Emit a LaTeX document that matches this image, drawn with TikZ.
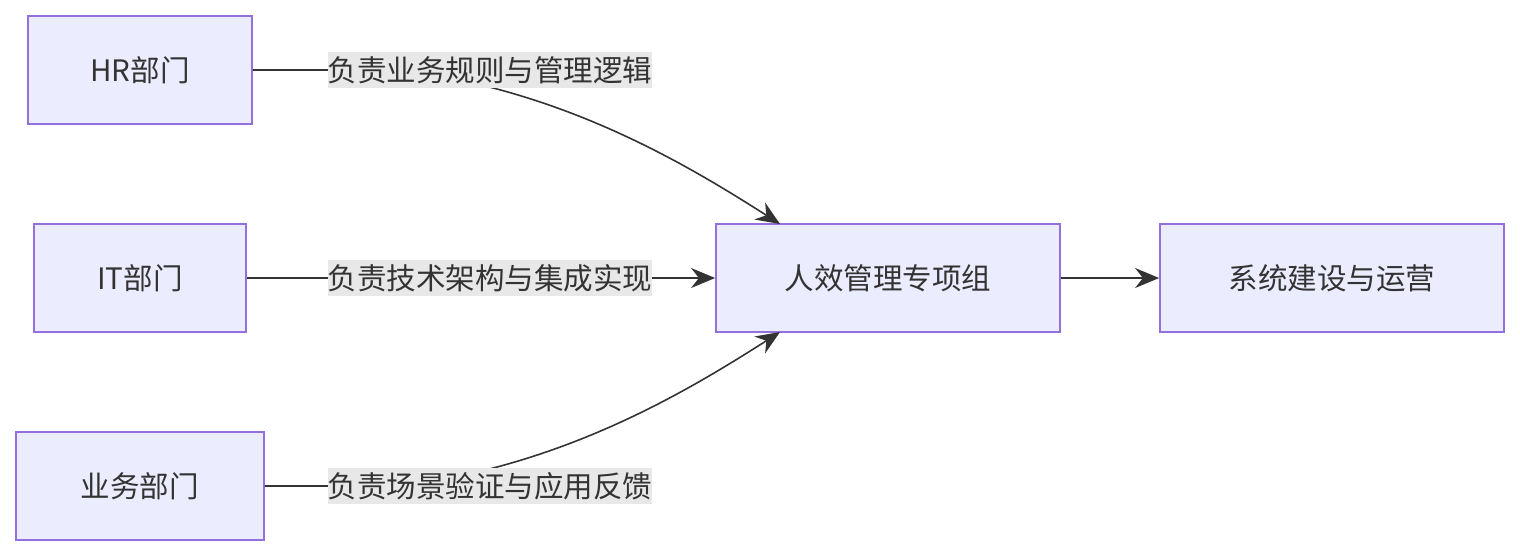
\documentclass[tikz,border=0pt]{standalone}
\usepackage{fontspec}
\setmainfont{Noto Sans CJK SC}
\usetikzlibrary{arrows.meta}
\definecolor{boxfill}{HTML}{ECECFF}
\definecolor{boxline}{HTML}{9370DB}
\definecolor{ink}{HTML}{333333}
\definecolor{labfill}{HTML}{E8E8E8}
\tikzset{
  unit/.style={draw=boxline, fill=boxfill, line width=0.45pt, text=ink,
    minimum height=1.08cm, inner sep=0pt, font=\fontsize{8.4}{10}\selectfont},
  edgelab/.style={fill=labfill, text=ink, inner sep=0pt, minimum height=0.36cm,
    font=\fontsize{8.4}{10}\selectfont},
  flow/.style={draw=ink, line width=0.45pt, -{Stealth[length=2.4mm,width=2mm]}}
}
\begin{document}
\begin{tikzpicture}[x=0.01cm,y=-0.01cm]
      \useasboundingbox (0,0) rectangle (1520,556);
      \node[unit, minimum width=2.24cm] (hr) at (140,70) {HR部门};
      \node[unit, minimum width=2.12cm] (it) at (140,278) {IT部门};
      \node[unit, minimum width=2.48cm] (biz) at (140,486) {业务部门};
      \node[unit, minimum width=3.44cm] (group) at (888,278) {人效管理专项组};
      \node[unit, minimum width=3.44cm] (ops) at (1332,278) {系统建设与运营};
      \coordinate (intop) at (780,224);
      \coordinate (inbot) at (780,332);
      % edges first, labels drawn over them
      \draw[flow] (hr.east) -- (400,70) .. controls (560,90) and (680,160) .. (intop);
      \draw[flow] (it.east) -- (group.west);
      \draw[flow] (biz.east) -- (400,486) .. controls (560,466) and (680,396) .. (inbot);
      \draw[flow] (group.east) -- (ops.west);
      \node[edgelab] (lhr) at (490,70) {负责业务规则与管理逻辑};
      \node[edgelab] (lit) at (490,278) {负责技术架构与集成实现};
      \node[edgelab] (lbiz) at (490,486) {负责场景验证与应用反馈};
\end{tikzpicture}
\end{document}
